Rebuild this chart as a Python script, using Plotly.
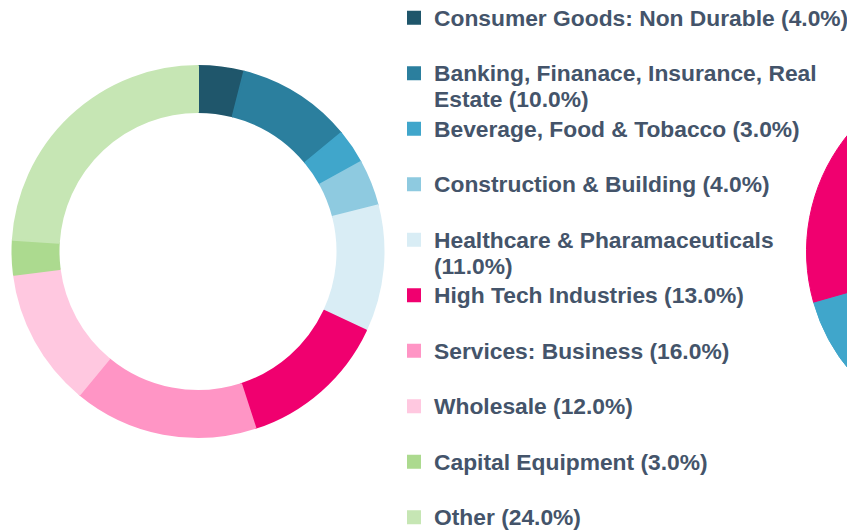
import textwrap
import plotly.graph_objects as go

# ---- data: main donut ----
categories = [
    "Consumer Goods: Non Durable",
    "Banking, Finanace, Insurance, Real Estate",
    "Beverage, Food & Tobacco",
    "Construction & Building",
    "Healthcare & Pharamaceuticals",
    "High Tech Industries",
    "Services: Business",
    "Wholesale",
    "Capital Equipment",
    "Other",
]
values = [4.0, 10.0, 3.0, 4.0, 11.0, 13.0, 16.0, 12.0, 3.0, 24.0]

colors = [
    "#1F566B", "#2B7F9E", "#40A6CB", "#8ECAE0", "#D9EDF5",
    "#F0006F", "#FF95C5", "#FFC8E0", "#ACDA8F", "#C6E6B4",
]

# ---- data: neighbouring donut (only its left edge is visible in the frame) ----
right_categories = ["Remaining (off-frame)", "Beverage, Food & Tobacco", "High Tech Industries"]
right_values = [56.6, 14.0, 29.4]
right_colors = ["#C6E6B4", "#40A6CB", "#F0006F"]

VIEW_W, H = 847, 530
FIG_W = 1185
TEXT_COLOR = "#44546A"


def legend_label(cat, val):
    lines = textwrap.wrap(f"{cat} ({val:.1f}%)", width=34)
    if len(lines) == 1:
        lines.append(" ")
    return "<br>".join(f"<span style='font-size:22.8px'>{ln}</span>" for ln in lines)


labels = [legend_label(c, v) for c, v in zip(categories, values)]


def domain(cx, cy, r):
    return dict(x=[(cx - r) / FIG_W, (cx + r) / FIG_W], y=[(H - cy - r) / H, (H - cy + r) / H])


fig = go.Figure()
fig.add_trace(
    go.Pie(
        labels=labels,
        values=values,
        sort=False,
        direction="clockwise",
        rotation=0,
        hole=0.752,
        textinfo="none",
        marker=dict(colors=colors, line=dict(color=colors, width=2)),
        domain=domain(198, 251.5, 185.5),
        hovertemplate="%{value:.1f}%<extra></extra>",
    )
)
fig.add_trace(
    go.Pie(
        labels=right_categories,
        values=right_values,
        sort=False,
        direction="clockwise",
        rotation=0,
        hole=0.752,
        textinfo="none",
        showlegend=False,
        marker=dict(colors=right_colors, line=dict(color=right_colors, width=1)),
        domain=domain(992, 251.5, 185.5),
        hoverinfo="skip",
    )
)

fig.update_layout(
    width=FIG_W,
    height=H,
    margin=dict(l=0, r=0, t=0, b=0, autoexpand=False),
    paper_bgcolor="white",
    plot_bgcolor="white",
    showlegend=True,
    legend=dict(
        x=394 / FIG_W,
        y=1 + 2 / H,
        xanchor="left",
        yanchor="top",
        valign="top",
        font=dict(family="Liberation Sans, Arial, sans-serif", size=20.2, color=TEXT_COLOR, weight="bold"),
        bgcolor="rgba(0,0,0,0)",
        maxheight=2000,
    ),
)

post = (
    "var gd=document.getElementById('{plot_id}');"
    "document.body.style.margin='0';"
    "document.body.style.overflow='hidden';"
    "var p=gd.parentElement;p.style.width='%dpx';p.style.height='%dpx';p.style.overflow='hidden';"
    % (VIEW_W, H)
)

fig.write_html("out.html", post_script=post)
